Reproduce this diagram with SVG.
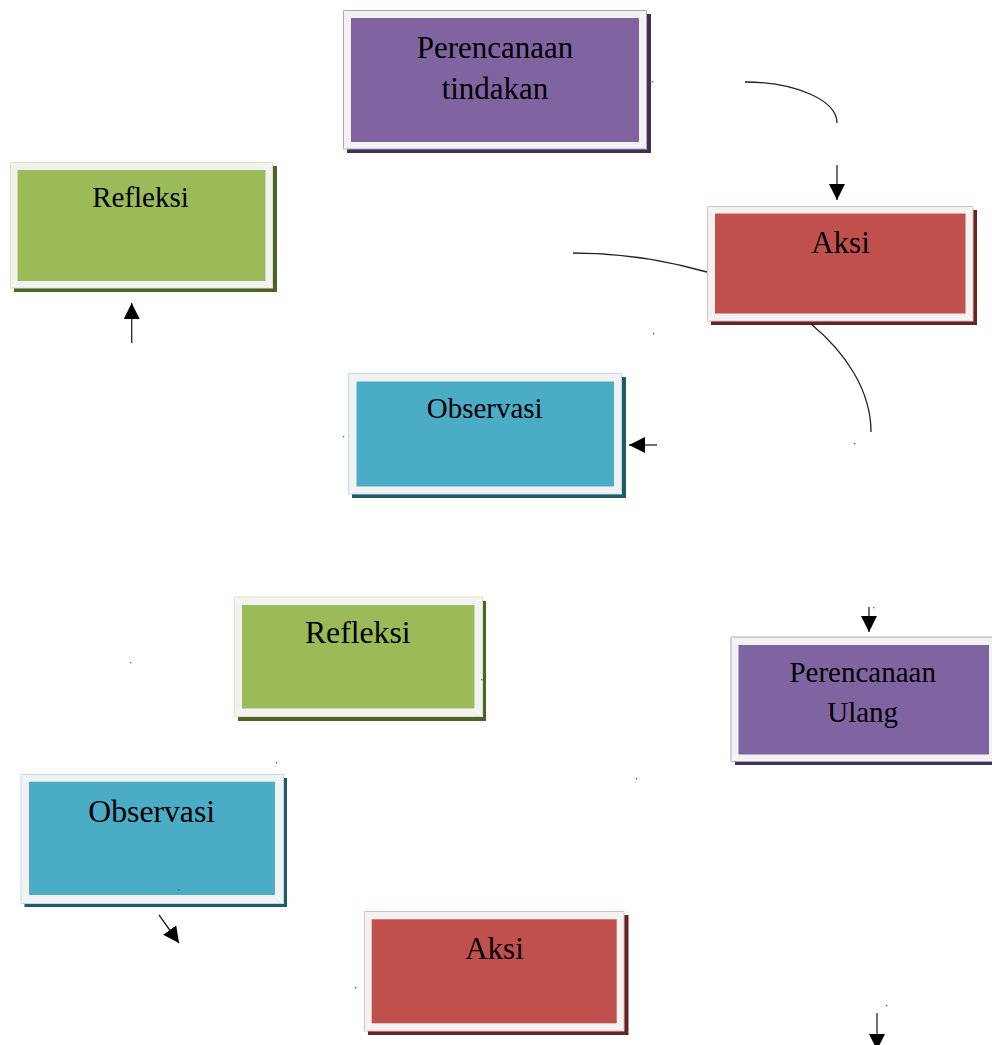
<svg xmlns="http://www.w3.org/2000/svg" width="992" height="1045" viewBox="0 0 992 1045">
<defs>
<style>
.frame{fill:#f2f2f2;stroke-width:1}
.bevel{stroke:#ffffff;stroke-width:0.8;opacity:0.9}
.lbl{font-family:"Liberation Serif","Times New Roman",serif;fill:#000;text-anchor:middle}
.con{fill:none;stroke:#222;stroke-width:1.3}
.dot{fill:#555}
.purple .sh{fill:#3f3151}.purple .in{fill:#8064a2}.purple .frame{stroke:#b2a1c7}
.red .sh{fill:#632423}.red .in{fill:#c0504d}.red .frame{stroke:#e6b9b8}
.green .sh{fill:#4f6228}.green .in{fill:#9bbb59}.green .frame{stroke:#d7e4bd}
.blue .sh{fill:#215968}.blue .in{fill:#4bacc6}.blue .frame{stroke:#b7dee8}
</style>
<marker id="ah" viewBox="0 0 16 16" refX="16" refY="8" markerWidth="16" markerHeight="16" markerUnits="userSpaceOnUse" orient="auto">
<path d="M0,0 L16,8 L0,16 z" fill="#000"/>
</marker>
</defs>
<rect width="992" height="1045" fill="#fff"/>

<g id="node-perencanaan-tindakan" class="purple">
<rect class="sh" x="347" y="14" width="304" height="139"/>
<rect class="frame" x="343.5" y="10.5" width="303" height="138.5"/>
<path class="bevel" d="M343.5,10.5 L351,18 M646.5,10.5 L639,18 M343.5,149 L351,142 M646.5,149 L639,142"/>
<rect class="in" x="351" y="18" width="288" height="124"/>
<text class="lbl" x="495" y="58" font-size="31">Perencanaan</text>
<text class="lbl" x="495" y="99" font-size="31">tindakan</text>
</g>

<g id="node-aksi-1" class="red">
<rect class="sh" x="711" y="210" width="266" height="115"/>
<rect class="frame" x="707.5" y="206.5" width="265.5" height="114.5"/>
<path class="bevel" d="M707.5,206.5 L715,213.5 M973,206.5 L965.5,213.5 M707.5,321 L715,313.5 M973,321 L965.5,313.5"/>
<rect class="in" x="715" y="213.5" width="250.5" height="100"/>
<text class="lbl" x="840.5" y="252.7" font-size="31">Aksi</text>
</g>

<g id="node-refleksi-1" class="green">
<rect class="sh" x="14" y="166" width="263" height="126"/>
<rect class="frame" x="10.5" y="162.5" width="262" height="125.5"/>
<path class="bevel" d="M10.5,162.5 L17.5,170 M272.5,162.5 L265.5,170 M10.5,288 L17.5,281 M272.5,288 L265.5,281"/>
<rect class="in" x="17.5" y="170" width="248" height="111"/>
<text class="lbl" x="140.5" y="206.7" font-size="29">Refleksi</text>
</g>

<g id="node-observasi-1" class="blue">
<rect class="sh" x="352" y="377" width="274" height="121"/>
<rect class="frame" x="348.5" y="373.5" width="273" height="120.5"/>
<path class="bevel" d="M348.5,373.5 L356.5,381.5 M621.5,373.5 L614,381.5 M348.5,494 L356.5,486.5 M621.5,494 L614,486.5"/>
<rect class="in" x="356.5" y="381.5" width="257.5" height="105"/>
<text class="lbl" x="484.7" y="417.7" font-size="29">Observasi</text>
</g>

<g id="node-refleksi-2" class="green">
<rect class="sh" x="238" y="601" width="248" height="120"/>
<rect class="frame" x="234.5" y="597" width="248" height="119.5"/>
<path class="bevel" d="M234.5,597 L242,605 M482.5,597 L474.5,605 M234.5,716.5 L242,708.5 M482.5,716.5 L474.5,708.5"/>
<rect class="in" x="242" y="605" width="232.5" height="103.5"/>
<text class="lbl" x="357.8" y="643.3" font-size="31.7">Refleksi</text>
</g>

<g id="node-perencanaan-ulang" class="purple">
<rect class="sh" x="735" y="641" width="266" height="124"/>
<rect class="frame" x="731" y="637" width="266" height="124.5"/>
<path class="bevel" d="M731,637 L738.5,645 M731,761.5 L738.5,754.5"/>
<rect class="in" x="738.5" y="645" width="250.5" height="109.5"/>
<text class="lbl" x="862.7" y="681.7" font-size="29">Perencanaan</text>
<text class="lbl" x="862.7" y="721.7" font-size="29">Ulang</text>
</g>

<g id="node-observasi-2" class="blue">
<rect class="sh" x="24.5" y="778" width="262.5" height="129"/>
<rect class="frame" x="21" y="774.5" width="262.5" height="129"/>
<path class="bevel" d="M21,774.5 L29,781.7 M283.5,774.5 L275,781.7 M21,903.5 L29,895 M283.5,903.5 L275,895"/>
<rect class="in" x="29" y="781.7" width="246" height="113.3"/>
<text class="lbl" x="151.7" y="821.7" font-size="31.7">Observasi</text>
</g>

<g id="node-aksi-2" class="red">
<rect class="sh" x="368" y="915" width="260.5" height="120"/>
<rect class="frame" x="364.5" y="911.5" width="259.5" height="119.5"/>
<path class="bevel" d="M364.5,911.5 L371.7,919.3 M624,911.5 L616.7,919.3 M364.5,1031 L371.7,1023.3 M624,1031 L616.7,1023.3"/>
<rect class="in" x="371.7" y="919.3" width="245" height="104"/>
<text class="lbl" x="494.5" y="959" font-size="31">Aksi</text>
</g>

<g id="connectors">
<path class="con" d="M745,82 A92,41 0 0 1 837,123"/>
<path class="con" d="M837,165 L837,200" marker-end="url(#ah)"/>
<path class="con" d="M573,253 Q640,253 707,272"/>
<path class="con" d="M811,324 C845,352 871,390 871,432"/>
<path class="con" d="M657,445 L629,445" marker-end="url(#ah)"/>
<path class="con" d="M131.7,343 L131.7,303" marker-end="url(#ah)"/>
<path class="con" d="M869,607 L869,632" marker-end="url(#ah)"/>
<path class="con" d="M159,915 L179,943" marker-end="url(#ah)"/>
<path class="con" d="M877,1013 L877,1050" marker-end="url(#ah)"/>
</g>

<g id="dots">
<rect class="dot" x="652" y="81" width="1.3" height="1.3"/>
<rect class="dot" x="653" y="333" width="1.3" height="1.3"/>
<rect class="dot" x="854" y="443" width="1.3" height="1.3"/>
<rect class="dot" x="130" y="662" width="1.3" height="1.3"/>
<rect class="dot" x="481" y="679" width="1.3" height="1.3"/>
<rect class="dot" x="276" y="762" width="1.3" height="1.3"/>
<rect class="dot" x="636" y="778" width="1.3" height="1.3"/>
<rect class="dot" x="178" y="889" width="1.3" height="1.3"/>
<rect class="dot" x="343" y="436" width="1.3" height="1.3"/>
<rect class="dot" x="355" y="987" width="1.3" height="1.3"/>
<rect class="dot" x="886" y="1005" width="1.3" height="1.3"/>
<rect class="dot" x="274" y="252" width="1.3" height="1.3"/>
<rect class="dot" x="873" y="607" width="1.3" height="1.3"/>
</g>
</svg>
